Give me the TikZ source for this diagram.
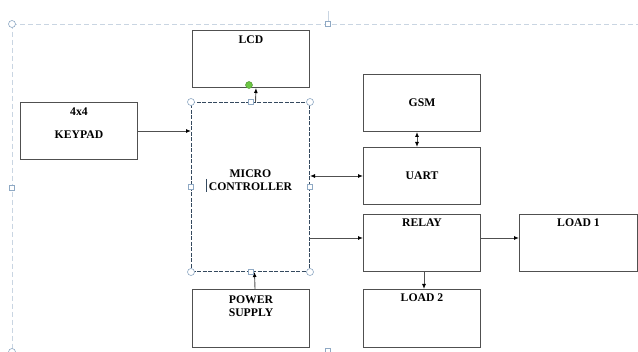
\documentclass[tikz,border=0pt]{standalone}
\usepackage{fontspec}
\setmainfont{Liberation Serif}
\usetikzlibrary{arrows.meta,positioning}
\definecolor{boxline}{HTML}{505050}
\definecolor{canvasline}{HTML}{C9D5E2}
\definecolor{handle}{HTML}{8FA9C4}
\definecolor{selline}{HTML}{34495E}
\definecolor{rotgreen}{HTML}{6CC644}

\tikzset{
    blk/.style={
        draw=boxline,
        line width=1pt,
        rectangle,
        anchor=north west,
        minimum width=117pt,
        minimum height=57pt,
        inner sep=0pt,
        font=\fontsize{11.7}{13}\selectfont\bfseries,
        align=center
    },
    toplabel/.style={anchor=north, inner sep=0pt, yshift=-5pt, align=center,
        font=\fontsize{11.7}{13}\selectfont\bfseries},
    wire/.style={draw=boxline, line width=0.9pt, -{Latex[length=5pt,width=4pt,color=black]}},
    biwire/.style={draw=boxline, line width=0.9pt,
        {Latex[length=5pt,width=4pt,color=black]}-{Latex[length=5pt,width=4pt,color=black]}},
    hcirc/.style={circle, draw=handle, fill=white, line width=0.6pt, minimum size=7pt, inner sep=0pt},
    hsq/.style={rectangle, draw=handle, fill=white, line width=0.6pt, minimum size=5pt, inner sep=0pt}
}

\begin{document}
\begin{tikzpicture}[x=1pt, y=-1pt]
    \useasboundingbox (0,0) rectangle (638,352);

    % drawing canvas
    \draw[canvasline, line width=0.8pt, dash pattern=on 5pt off 3pt] (12,24) -- (638,24);
    \draw[canvasline, line width=0.8pt, dash pattern=on 5pt off 3pt] (12,24) -- (12,352);
    \draw[canvasline, line width=0.8pt] (328,11) -- (328,22);
    \node[hcirc] (c1) at (12,24) {};
    \node[hsq] (c2) at (328,24) {};
    \node[hsq] (c3) at (12,188) {};
    \node[hcirc] (c4) at (12,352) {};
    \node[hsq] (c5) at (328,351) {};

    % blocks
    \node[blk, label={[toplabel, yshift=-0.5pt]north:LCD}] (lcd) at (192,30) {};
    \node[blk, label={[toplabel, yshift=-0.5pt]north:4x4}] (keypad) at (20,102) {\\[2pt]KEYPAD};
    \node[blk, draw=selline, dash pattern=on 4pt off 1.5pt, minimum width=118pt, minimum height=169pt,
          label={[align=center, font=\fontsize{11.7}{12.5}\selectfont\bfseries, yshift=7pt]center:MICRO\\CONTROLLER}] (mc) at (191,102) {};
    \node[blk] (gsm) at (363,74) {GSM};
    \node[blk] (uart) at (363,147) {UART};
    \node[blk, label={[toplabel]north:RELAY}] (relay) at (363,214) {};
    \node[blk, minimum width=118pt, label={[toplabel]north:LOAD 1}] (load1) at (519,214) {};
    \node[blk, minimum height=58pt, label={[toplabel]north:LOAD 2}] (load2) at (363,289) {};
    \node[blk, minimum height=58pt, label={[toplabel, yshift=-1.5pt]north:POWER\\SUPPLY}] (power) at (192,289) {};

    % connections
    \draw[wire] (keypad.east |- 0,131) -- (mc.west |- 0,131);
    \draw[wire] ([xshift=5pt]mc.north) -- ([xshift=5pt]lcd.south);
    \draw[biwire] (mc.east |- uart.west) -- (uart.west);
    \draw[biwire] ([xshift=-5pt]gsm.south) -- ([xshift=-5pt]uart.north);
    \draw[wire] (mc.east |- 0,238) -- (relay.west |- 0,238);
    \draw[wire] (relay.east |- 0,238) -- (load1.west |- 0,238);
    \draw[wire] ([xshift=2pt]relay.south) -- ([xshift=2pt]load2.north);
    \draw[wire] ([xshift=4pt]power.north) -- ([xshift=4pt]mc.south);

    % selection handles
    \foreach \a in {north west, north east, south west, south east}
        \node[hcirc] at (mc.\a) {};
    \foreach \a in {north, south, west, east}
        \node[hsq] at (mc.\a) {};
    \node[circle, fill=rotgreen, draw=rotgreen!70!black, line width=0.4pt, minimum size=7pt, inner sep=0pt] (rot) at (249,85) {};
    \draw[selline, line width=0.8pt] (206,179) -- (206,192);
\end{tikzpicture}
\end{document}
